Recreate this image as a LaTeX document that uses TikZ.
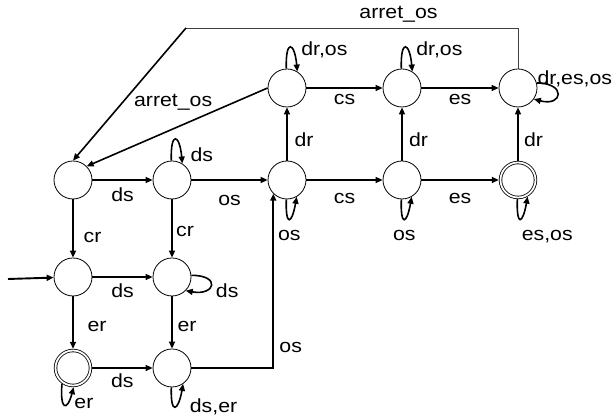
\documentclass[tikz,border=0pt]{standalone}
\usepackage{fontspec}
\setmainfont{Liberation Sans}[FakeStretch=1.12]
\usetikzlibrary{arrows.meta}
\tikzset{
    every node/.append style={font=\fontsize{19}{22}\selectfont},
    state/.style={circle, draw, line width=0.8pt, minimum size=38pt, inner sep=0pt},
    final/.style={state, double, double distance=1.8pt, minimum size=35pt, outer sep=1.7pt},
    trans/.style={-{Triangle[length=7pt,width=6pt]}, line width=1.6pt},
    x=1pt, y=1pt
}

\begin{document}
\begin{tikzpicture}
\useasboundingbox (0,0) rectangle (613,419);
% states
\node[state] (s1) at (73,239) {};
\node[state] (s2) at (172,239) {};
\node[state] (s3) at (287,239) {};
\node[state] (s4) at (402,239) {};
\node[final] (s5) at (518,239) {};
\node[state] (t3) at (287,331) {};
\node[state] (t4) at (402,331) {};
\node[state] (t5) at (518,331) {};
\node[state] (q0) at (73,142) {};
\node[state] (q1) at (172,142) {};
\node[final] (f0) at (73,51) {};
\node[state] (f1) at (172,51) {};
\coordinate (start) at (8,140);
\coordinate (bend) at (186,391);

% initial state
\draw[trans, line width=1.9pt] (start) -- (q0);

% straight transitions
\draw[trans] (s1) -- (s2) node[midway, below=4pt] {ds};
\draw[trans] (s2) -- (s3) node[midway, below=11pt] {os};
\draw[trans] (s3) -- (s4) node[midway, below=9.5pt] {cs};
\draw[trans] (s4) -- (s5) node[midway, below=9.5pt] {es};
\draw[trans] (t3) -- (t4) node[midway, below=2pt] {cs};
\draw[trans] (t4) -- (t5) node[midway, below=2pt] {es};
\draw[trans] (s3) -- (t3) node[pos=0.4, right=3.5pt] {dr};
\draw[trans] (s4) -- (t4) node[pos=0.4, right=3pt] {dr};
\draw[trans] (s5) -- (t5) node[pos=0.4, right=2pt] {dr};
\draw[trans] (s1) -- (q0) node[pos=0.66, right=6.5pt] {cr};
\draw[trans] (s2) -- (q1) node[pos=0.55, right=0pt] {cr};
\draw[trans] (q0) -- (q1) node[midway, below=3pt] {ds};
\draw[trans] (q0) -- (f0) node[pos=0.57, right=10.5pt] {er};
\draw[trans] (q1) -- (f1) node[pos=0.57, right=1.5pt] {er};
\draw[trans] (f0) -- (f1) node[midway, below=2pt] {ds};
\draw[trans] (f1) -| (s3.225) node[pos=0.56, right=2pt] {os};

% arret_os
\draw[line width=0.8pt, black!75] (t5.north) |- (bend) node[pos=0.68, above=1.5pt, black] {arret\_os};
\draw[trans] (bend) -- (s1.north);
\draw[trans] (t3.west) -- (s1.45) node[midway, above=13pt, xshift=-4pt] {arret\_os};

% loops
\draw[trans] (t3.92) to[out=92, in=95, distance=30pt] node[pos=0, xshift=38pt, yshift=19pt] {dr,os} (t3.58);
\draw[trans] (t4.92) to[out=92, in=95, distance=30pt] node[pos=0, xshift=38pt, yshift=19pt] {dr,os} (t4.58);
\draw[trans] (t5.15) to[out=0, in=-15, distance=30pt] node[pos=0, anchor=base west, inner sep=0pt, yshift=-2pt] {dr,es,os} (t5.-35);
\draw[trans] (s2.92) to[out=92, in=95, distance=30pt] node[pos=0, xshift=30.5pt, yshift=6pt] {ds} (s2.58);
\draw[trans] (s3.-92) to[out=-92, in=-100, distance=28pt] node[pos=0.5, below=7.5pt] {os} (s3.-60);
\draw[trans] (s4.-92) to[out=-92, in=-100, distance=28pt] node[pos=0.5, below=7.5pt] {os} (s4.-60);
\draw[trans] (s5.-92) to[out=-92, in=-100, distance=28pt] node[pos=0.5, below=7.5pt, xshift=27pt] {es,os} (s5.-60);
\draw[trans] (q1.5) to[out=0, in=-10, distance=30pt] node[pos=0.5, anchor=west, xshift=1pt, yshift=-6pt] {ds} (q1.-45);
\draw[trans] (f0.-125) to[out=-95, in=-105, distance=26pt] node[pos=0.5, xshift=19.5pt, yshift=1.5pt] {er} (f0.-88);
\draw[trans] (f1.-92) to[out=-92, in=-100, distance=28pt] node[pos=0.5, xshift=38.5pt] {ds,er} (f1.-55);
\end{tikzpicture}
\end{document}
